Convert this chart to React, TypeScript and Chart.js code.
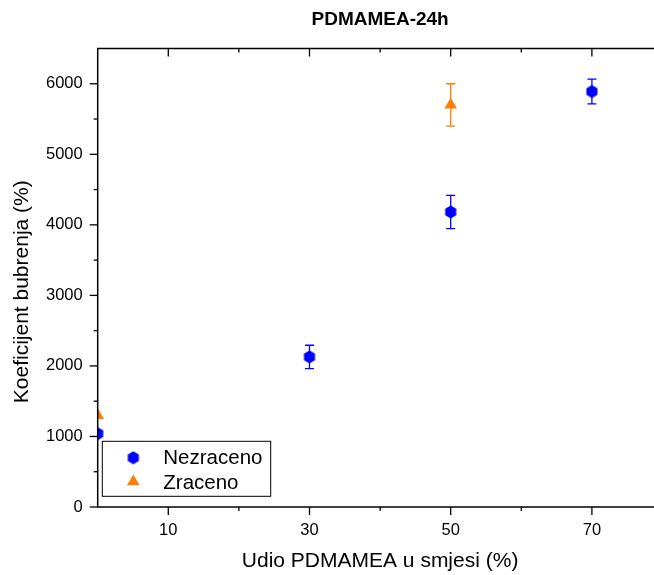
import { useEffect, useRef } from 'react';
import { Chart, registerables } from 'chart.js';

Chart.register(...registerables);

// ---- data ----
const xNezraceno = [0, 30, 50, 70];
const yNezraceno = [1040, 2128, 4183, 5890];
const errNezraceno = [0, 165, 236, 175];

const xZraceno = [0, 50];
const yZraceno = [1300, 5700];
const errZraceno = [0, 300];

const xTickLabels = [10, 30, 50, 70];
const xMinorTicks = [20, 40, 60];
const yTickLabels = [0, 1000, 2000, 3000, 4000, 5000, 6000];
const yMinorTicks = [500, 1500, 2500, 3500, 4500, 5500];

const titleText = 'PDMAMEA-24h';
const xTitle = 'Udio PDMAMEA u smjesi (%)';
const yTitle = 'Koeficijent bubrenja (%)';

const BLUE = '#0000FF';
const ORANGE = '#FF8000';
const FAMILY = "'Liberation Sans', Arial, Helvetica, sans-serif";

function makeHexagon(color: string): HTMLCanvasElement {
  const c = document.createElement('canvas');
  c.width = 14;
  c.height = 14;
  const g = c.getContext('2d')!;
  const r = 6.4;
  g.fillStyle = color;
  g.beginPath();
  for (let i = 0; i < 6; i++) {
    const ang = -Math.PI / 2 + (i * Math.PI) / 3;
    const px = 7 + r * Math.cos(ang);
    const py = 7 + r * Math.sin(ang);
    if (i === 0) g.moveTo(px, py);
    else g.lineTo(px, py);
  }
  g.closePath();
  g.fill();
  return c;
}

function drawMarker(ctx: CanvasRenderingContext2D, style: any, radius: number, color: string, x: number, y: number) {
  if (style instanceof HTMLCanvasElement) {
    ctx.drawImage(style, x - style.width / 2, y - style.height / 2);
    return;
  }
  ctx.fillStyle = color;
  ctx.beginPath();
  let rad = 0;
  for (let i = 0; i < 3; i++) {
    const px = x + Math.sin(rad) * radius;
    const py = y - Math.cos(rad) * radius;
    if (i === 0) ctx.moveTo(px, py);
    else ctx.lineTo(px, py);
    rad += (2 * Math.PI) / 3;
  }
  ctx.closePath();
  ctx.fill();
}

const errorSets = [
  { xs: xNezraceno, ys: yNezraceno, err: errNezraceno, color: BLUE },
  { xs: xZraceno, ys: yZraceno, err: errZraceno, color: ORANGE },
];

const originPlugin = {
  id: 'originStyle',
  beforeDatasetsDraw(chart: any) {
    const { ctx, chartArea: a } = chart;
    const xs = chart.scales.x;
    const ys = chart.scales.y;
    ctx.save();
    ctx.beginPath();
    ctx.rect(a.left, a.top, a.right - a.left, a.bottom - a.top);
    ctx.clip();
    ctx.lineWidth = 1.3;
    errorSets.forEach((s) => {
      ctx.strokeStyle = s.color;
      s.xs.forEach((xv, i) => {
        const e = s.err[i];
        if (!e) return;
        const px = xs.getPixelForValue(xv);
        const top = ys.getPixelForValue(s.ys[i] + e);
        const bot = ys.getPixelForValue(s.ys[i] - e);
        ctx.beginPath();
        ctx.moveTo(px, top);
        ctx.lineTo(px, bot);
        ctx.moveTo(px - 4.5, top);
        ctx.lineTo(px + 4.5, top);
        ctx.moveTo(px - 4.5, bot);
        ctx.lineTo(px + 4.5, bot);
        ctx.stroke();
      });
    });
    ctx.restore();
  },
  afterDraw(chart: any) {
    const { ctx, chartArea: a } = chart;
    const xs = chart.scales.x;
    const ys = chart.scales.y;
    ctx.save();
    ctx.strokeStyle = '#000';
    ctx.lineWidth = 1.5;
    ctx.strokeRect(a.left, a.top, a.right - a.left, a.bottom - a.top);

    ctx.lineWidth = 1.3;
    const major = 8;
    const minor = 4;
    const tick = (x1: number, y1: number, x2: number, y2: number) => {
      ctx.beginPath();
      ctx.moveTo(x1, y1);
      ctx.lineTo(x2, y2);
      ctx.stroke();
    };
    xTickLabels.forEach((v) => {
      const p = xs.getPixelForValue(v);
      tick(p, a.bottom, p, a.bottom + major);
      tick(p, a.top, p, a.top + major);
    });
    xMinorTicks.forEach((v) => {
      const p = xs.getPixelForValue(v);
      tick(p, a.bottom, p, a.bottom + minor);
      tick(p, a.top, p, a.top + minor);
    });
    yTickLabels.forEach((v) => {
      const p = ys.getPixelForValue(v);
      tick(a.left, p, a.left - major, p);
      tick(a.right, p, a.right - major, p);
    });
    yMinorTicks.forEach((v) => {
      const p = ys.getPixelForValue(v);
      tick(a.left, p, a.left - minor, p);
      tick(a.right, p, a.right - minor, p);
    });

    // legend
    const bx = a.left + 4.6;
    const by = a.bottom - 65.7;
    ctx.fillStyle = '#fff';
    ctx.fillRect(bx, by, 168.4, 55);
    ctx.lineWidth = 1;
    ctx.strokeStyle = '#000';
    ctx.strokeRect(bx, by, 168.4, 55);
    ctx.font = `20.5px ${FAMILY}`;
    ctx.textBaseline = 'alphabetic';
    ctx.textAlign = 'left';
    chart.data.datasets.forEach((ds: any, i: number) => {
      const my = a.bottom - 49.3 + i * 24;
      drawMarker(ctx, ds.pointStyle, ds.pointRadius, ds.backgroundColor, a.left + 35.6, my);
      ctx.fillStyle = '#000';
      ctx.fillText(ds.label, a.left + 65.6, a.bottom - 42.7 + i * 25);
    });

    // y axis title
    ctx.save();
    ctx.translate(22.2, (a.top + a.bottom) / 2 + 14);
    ctx.rotate(-Math.PI / 2);
    ctx.font = `21px ${FAMILY}`;
    ctx.fillStyle = '#000';
    ctx.textAlign = 'center';
    ctx.textBaseline = 'middle';
    ctx.fillText(yTitle, 0, 0);
    ctx.restore();

    ctx.restore();
  },
};

export default function App() {
  const ref = useRef<HTMLCanvasElement>(null);

  useEffect(() => {
    const canvas = ref.current;
    if (!canvas) return;
    const hex = makeHexagon(BLUE);
    const chart = new Chart(canvas, {
      type: 'scatter',
      data: {
        datasets: [
          {
            label: 'Nezraceno',
            data: xNezraceno.map((x, i) => ({ x, y: yNezraceno[i] })),
            pointStyle: hex as any,
            pointRadius: 6.4,
            backgroundColor: BLUE,
            borderColor: BLUE,
            borderWidth: 0,
            clip: 0 as any,
          },
          {
            label: 'Zraceno',
            data: xZraceno.map((x, i) => ({ x, y: yZraceno[i] })),
            pointStyle: 'triangle',
            pointRadius: 7.3,
            backgroundColor: ORANGE,
            borderColor: ORANGE,
            borderWidth: 0,
            clip: 0 as any,
          },
        ],
      },
      options: {
        responsive: false,
        animation: false,
        devicePixelRatio: 1,
        layout: { padding: { left: 0, right: 9.5, top: 0, bottom: 0 } },
        plugins: {
          legend: { display: false },
          tooltip: { enabled: false },
          title: {
            display: true,
            text: titleText,
            fullSize: false,
            color: '#000',
            font: { size: 19, weight: 'bold', family: FAMILY },
            padding: { top: 8.6, bottom: 17.1 },
          },
        },
        scales: {
          x: {
            type: 'linear',
            min: 0,
            max: 80,
            afterBuildTicks: (s: any) => {
              s.ticks = xTickLabels.map((v) => ({ value: v }));
            },
            afterFit: (s: any) => {
              s.height = 68;
            },
            grid: { display: false, drawTicks: false, tickLength: 0 },
            border: { display: false },
            ticks: {
              padding: 13.4,
              color: '#000',
              font: { size: 16.5, family: FAMILY },
              maxRotation: 0,
              autoSkip: false,
              callback: (v: any) => String(v),
            },
            title: {
              display: true,
              text: xTitle,
              color: '#000',
              font: { size: 21, family: FAMILY },
              padding: { top: 0, bottom: 0.7 },
            },
          },
          y: {
            type: 'linear',
            min: 0,
            max: 6500,
            afterBuildTicks: (s: any) => {
              s.ticks = yTickLabels.map((v) => ({ value: v }));
            },
            afterFit: (s: any) => {
              s.width = 97.7;
            },
            grid: { display: false, drawTicks: false, tickLength: 0 },
            border: { display: false },
            ticks: {
              padding: 15,
              color: '#000',
              font: { size: 16.5, family: FAMILY },
              autoSkip: false,
              callback: (v: any) => String(v),
            },
          },
        },
      },
      plugins: [originPlugin],
    } as any);
    return () => chart.destroy();
  }, []);

  return (
    <div
      style={{
        position: 'fixed',
        left: 0,
        top: 0,
        width: 654,
        height: 575,
        overflow: 'hidden',
        background: '#fff',
      }}
    >
      <canvas ref={ref} width={672} height={575} style={{ display: 'block', width: 672, height: 575 }} />
    </div>
  );
}
